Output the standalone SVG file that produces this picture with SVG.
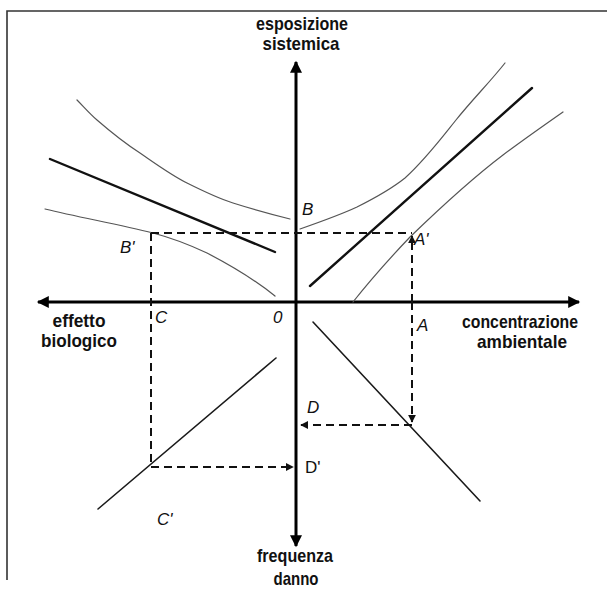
<svg xmlns="http://www.w3.org/2000/svg" width="607" height="590" viewBox="0 0 607 590">
<defs>
<style>
.ax{stroke:#000;stroke-width:3;fill:none}
.thick{stroke:#111;stroke-width:2.4;fill:none;stroke-linecap:round}
.thin{stroke:#555;stroke-width:1.2;fill:none;stroke-linecap:round}
.mid{stroke:#1a1a1a;stroke-width:1.6;fill:none;stroke-linecap:round}
.dash{stroke:#111;stroke-width:2;fill:none;stroke-dasharray:8 5}
.ttl{font-family:"Liberation Sans",Arial,sans-serif;font-weight:bold;font-size:19px;fill:#111;text-anchor:middle}
.lbl{font-family:"Liberation Sans",Arial,sans-serif;font-style:italic;font-size:17px;fill:#111}
.lblu{font-family:"Liberation Sans",Arial,sans-serif;font-size:17px;fill:#111}
</style>
<marker id="big" viewBox="0 0 10 10" refX="9" refY="5" markerWidth="5" markerHeight="4" orient="auto" markerUnits="strokeWidth">
<path d="M0,0 L10,5 L0,10 z" fill="#000"/>
</marker>
<marker id="sm" viewBox="0 0 10 10" refX="9" refY="5" markerWidth="4" markerHeight="4" orient="auto" markerUnits="strokeWidth">
<path d="M0,0 L10,5 L0,10 z" fill="#111"/>
</marker>
</defs>
<rect width="607" height="590" fill="#fff"/>
<g id="frame">
<path d="M7,580 L7,11 L607,11" stroke="#333" stroke-width="1.6" fill="none"/>
</g>
<g id="axes">
<line class="ax" x1="296" y1="302" x2="296" y2="62" marker-end="url(#big)"/>
<line class="ax" x1="296" y1="302" x2="296" y2="546" marker-end="url(#big)"/>
<line class="ax" x1="296" y1="302" x2="38" y2="302" marker-end="url(#big)"/>
<line class="ax" x1="296" y1="302" x2="579" y2="302" marker-end="url(#big)"/>
</g>
<g id="curves">
<line class="thick" x1="310" y1="286" x2="532" y2="88"/>
<path class="thin" d="M300,229 C320,222 340,215 357,207 C375,198 390,190 405,178 C425,160 440,140 456,120 C472,100 490,82 505,63"/>
<path class="thin" d="M353,302 C372,278 390,258 410,237 C440,208 470,180 503,155 C523,140 543,126 563,112"/>
<line class="thick" x1="50" y1="159" x2="275" y2="252"/>
<path class="thin" d="M77,100 C84,107 90,114 97,120 C112,133 126,144 140,153 C156,164 171,175 187,183 C203,191 217,198 233,203 C252,209 270,214 290,219"/>
<path class="thin" d="M45,209 C82,218 118,224 153,233 C172,238 190,245 207,253 C232,266 254,279 275,296"/>
<line class="mid" x1="98" y1="509" x2="276" y2="358"/>
<line class="mid" x1="313" y1="322" x2="480" y2="501"/>
</g>
<g id="connectors">
<line class="dash" x1="151" y1="233" x2="412" y2="233"/>
<line class="dash" x1="151" y1="233" x2="151" y2="467"/>
<line class="dash" x1="151" y1="467" x2="293" y2="467" marker-end="url(#sm)"/>
<line class="dash" x1="412" y1="302" x2="412" y2="236" marker-end="url(#sm)"/>
<line class="dash" x1="412" y1="302" x2="412" y2="422" marker-end="url(#sm)"/>
<line class="dash" x1="412" y1="425" x2="301" y2="425" marker-end="url(#sm)"/>
</g>
<g id="axis-titles">
<text class="ttl" x="302" y="30" textLength="92" lengthAdjust="spacingAndGlyphs">esposizione</text>
<text class="ttl" x="301" y="50" textLength="77" lengthAdjust="spacingAndGlyphs">sistemica</text>
<text class="ttl" x="79" y="327" textLength="53" lengthAdjust="spacingAndGlyphs">effetto</text>
<text class="ttl" x="79" y="347" textLength="76" lengthAdjust="spacingAndGlyphs">biologico</text>
<text class="ttl" x="520" y="328" textLength="116" lengthAdjust="spacingAndGlyphs">concentrazione</text>
<text class="ttl" x="522" y="348" textLength="90" lengthAdjust="spacingAndGlyphs">ambientale</text>
<text class="ttl" x="295" y="562" textLength="76" lengthAdjust="spacingAndGlyphs">frequenza</text>
<text class="ttl" x="296" y="585" textLength="45" lengthAdjust="spacingAndGlyphs">danno</text>
</g>
<g id="labels">
<text class="lbl" x="302" y="215">B</text>
<text class="lbl" x="414" y="245">A'</text>
<text class="lbl" x="120" y="253">B'</text>
<text class="lbl" x="155" y="323">C</text>
<text class="lbl" x="273" y="323">0</text>
<text class="lbl" x="417" y="331">A</text>
<text class="lbl" x="307" y="413">D</text>
<text class="lblu" x="305" y="473">D'</text>
<text class="lbl" x="157" y="525">C'</text>
</g>
</svg>
